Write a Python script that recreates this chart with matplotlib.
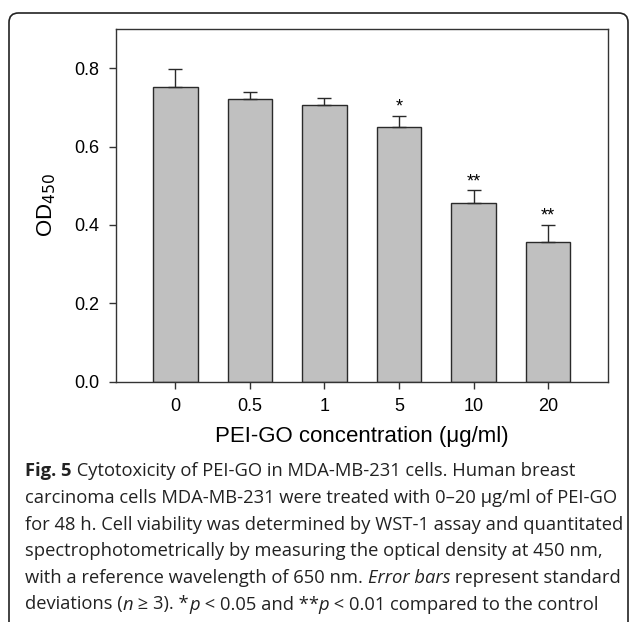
import numpy as np
import matplotlib
matplotlib.use('Agg')
import matplotlib.pyplot as plt
from matplotlib.patches import FancyBboxPatch

# data
conc_labels = ['0', '0.5', '1', '5', '10', '20']
od450 = [0.752, 0.723, 0.707, 0.651, 0.456, 0.357]
od450_sd = [0.046, 0.018, 0.017, 0.028, 0.033, 0.044]
signif = ['', '', '', '*', '**', '**']

W, H = 629, 622
fig = plt.figure(figsize=(W / 100, H / 100), dpi=100)

# rounded frame around figure + caption
frame = FancyBboxPatch((9 / W, -0.2), 619 / W, 1.2 - 13 / H,
                       boxstyle='round,pad=0,rounding_size=0.015',
                       transform=fig.transFigure, fill=False,
                       edgecolor='#222222', linewidth=1.2)
fig.patches.append(frame)

plt.rcParams['font.family'] = ['Liberation Sans', 'DejaVu Sans']

ax = fig.add_axes([115.7 / W, 1 - 381.5 / H, 492 / W, 352.2 / H])
x = np.arange(len(conc_labels))
ax.bar(x, od450, width=0.6, color='#c0c0c0', edgecolor='#2a2a2a', linewidth=1.0)
ax.errorbar(x, od450, yerr=[np.zeros(len(x)), od450_sd], fmt='none',
            ecolor='#2a2a2a', elinewidth=1.0, capsize=5, capthick=1.0)
for xi, yv, sd, s in zip(x, od450, od450_sd, signif):
    if s:
        ax.text(xi, yv + sd + 0.01, s, ha='center', va='baseline', fontsize=13)

ax.set_xlim(-0.8, 5.8)
ax.set_ylim(0, 0.9)
ax.set_yticks([0.0, 0.2, 0.4, 0.6, 0.8])
ax.set_yticklabels(['0.0', '0.2', '0.4', '0.6', '0.8'])
ax.set_xticks(x)
ax.set_xticklabels(conc_labels)
ax.tick_params(direction='out', length=5, width=1, color='#333333',
               labelsize=13, pad=7)
for sp in ax.spines.values():
    sp.set_color('#333333')
    sp.set_linewidth(1.0)

ax.set_xlabel('PEI-GO concentration (\u03bcg/ml)', fontsize=16)
ax.xaxis.label.set_va('center')
ax.xaxis.set_label_coords(0.5, -0.157)
ax.set_ylabel('OD$_{450}$', fontsize=16)
ax.yaxis.label.set_va('center')
ax.yaxis.set_label_coords(-0.14, 0.5)

# caption, drawn run by run so bold/italic can be mixed on a line
cap_font = 'Open Sans'
cap_size = 13.2
renderer = fig.canvas.get_renderer()


def run_width(s, weight, style):
    t = fig.text(0, 0, s + '|', family=cap_font, fontsize=cap_size,
                 weight=weight, style=style)
    t2 = fig.text(0, 0, '|', family=cap_font, fontsize=cap_size,
                  weight=weight, style=style)
    w = t.get_window_extent(renderer).width - t2.get_window_extent(renderer).width
    t.remove()
    t2.remove()
    return w


caption = [
    [('Fig. 5', 'bold', 'normal'),
     (' Cytotoxicity of PEI-GO in MDA-MB-231 cells. Human breast', 'normal', 'normal')],
    [('carcinoma cells MDA-MB-231 were treated with 0\u201320 \u03bcg/ml of PEI-GO', 'normal', 'normal')],
    [('for 48 h. Cell viability was determined by WST-1 assay and quantitated', 'normal', 'normal')],
    [('spectrophotometrically by measuring the optical density at 450 nm,', 'normal', 'normal')],
    [('with a reference wavelength of 650 nm. ', 'normal', 'normal'),
     ('Error bars', 'normal', 'italic'),
     (' represent standard', 'normal', 'normal')],
    [('deviations (', 'normal', 'normal'), ('n', 'normal', 'italic'),
     (' \u2265 3). *', 'normal', 'normal'), ('p', 'normal', 'italic'),
     (' < 0.05 and **', 'normal', 'normal'), ('p', 'normal', 'italic'),
     (' < 0.01 compared to the control', 'normal', 'normal')],
]

for i, line in enumerate(caption):
    px = 25.0
    py = 476.5 + 26.6 * i
    for s, weight, style in line:
        fig.text(px / W, 1 - py / H, s, family=cap_font, fontsize=cap_size,
                 weight=weight, style=style, color='#222222',
                 ha='left', va='baseline')
        px += run_width(s, weight, style)

fig.savefig('out.png', dpi=100)
